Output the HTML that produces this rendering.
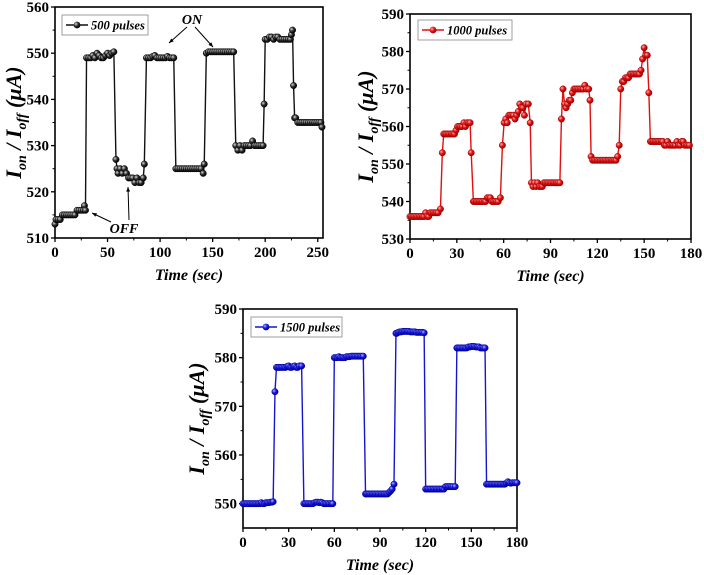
<!DOCTYPE html>
<html><head><meta charset="utf-8">
<style>
html,body{margin:0;padding:0;background:#fff;}
svg{display:block;}
text{font-family:"Liberation Serif",serif;font-weight:bold;}
</style></head>
<body>
<svg id="fig" width="704" height="575" viewBox="0 0 704 575" xmlns="http://www.w3.org/2000/svg">
<defs>
<radialGradient id="gk" cx="0.35" cy="0.35" r="0.65"><stop offset="0" stop-color="#d8d8d8"/><stop offset="0.5" stop-color="#333"/><stop offset="1" stop-color="#000"/></radialGradient>
<radialGradient id="gr" cx="0.35" cy="0.35" r="0.65"><stop offset="0" stop-color="#ffb0b0"/><stop offset="0.5" stop-color="#e51515"/><stop offset="1" stop-color="#a00000"/></radialGradient>
<radialGradient id="gb" cx="0.35" cy="0.35" r="0.65"><stop offset="0" stop-color="#b0b0ff"/><stop offset="0.5" stop-color="#1a1ae0"/><stop offset="1" stop-color="#0000a0"/></radialGradient>
</defs>
</svg>
<script>
// ---- Panel 1 data (500 pulses) ----
const t1 = [0,1,3,5,7,9,11,13,15,17,19,21,23,25,27,28,29,
30,32,34,36,38,40,42,44,46,48,50,52,54,56,
58,59,60,62,64,66,68,70,72,74,76,78,80,82,84,85,
87,89,91,93,95,97,99,101,103,105,107,109,111,113,
115,117,119,121,123,125,127,129,131,133,135,137,139,141,142,
144,146,148,150,152,154,156,158,160,162,164,166,168,170,
172,174,176,178,180,182,184,186,188,190,192,194,196,198,
199,200,202,204,206,208,210,212,214,216,218,220,222,224,225,226,
227,228,229,231,233,235,237,239,241,243,245,247,249,251,253,254];
const v1 = [513,514,514,514,515,515,515,515,515,515,515,516,516,516,516,517,516,
549,549,549,549.5,549,550,549.5,549,549,549.5,550,549.5,550,550.3,
527,525,524,525,524,525,524,523,523,523,522,523,522,522,523,526,
549,549,549,549.3,549.5,549,549,549,549,549,549.3,549,549,549,
525,525,525,525,525,525,525,525,525,525,525,525,525,524,526,
550,550.3,550.3,550.3,550.3,550.3,550.3,550.3,550.3,550.3,550.3,550.3,550.3,550.3,
530,529,530,529,530,530,530,530,531,530,530,530,530,530,
539,553,553,553.5,553.5,553,553.5,553.5,553,553,553,553,553,553,554,555,
543,536,536,535,535,535,535,535,535,535,535,535,535,535,535,534];
const xt1 = [0,50,100,150,200,250];
const yt1 = [510,520,530,540,550,560];

// ---- Panel 2 data (1000 pulses) ----
const t2 = [0,1,2,3,4,5,6,7,8,9,10,11,12,13,14,15,16,17,18,19.5,
20.7,21.6,22.5,23.5,24.5,25.5,26.5,27.5,28.5,29.5,30.5,31.5,32.5,33.5,34.5,35.5,36.5,37.5,38.5,
39.2,40.6,41.5,42.5,43.5,44.5,45.5,46.5,47.5,48.5,49.5,50.5,51.5,52.5,53.5,54.5,55.5,56.5,57.9,
59.2,60.3,61.3,62.3,63.3,64.3,65.3,66.3,67.3,68.3,69.3,70.3,71.3,72.3,73.3,74.3,75.8,
77,77.8,78.8,79.8,80.8,81.8,82.8,83.8,84.8,85.8,86.8,87.8,88.8,89.8,90.8,91.8,92.8,93.8,94.8,96,
97,98,99,100,101,102,103,104,105,106,107,108,109,110,111,112,113,114.5,
115.3,116,117,118,119,120,121,122,123,124,125,126,127,128,129,130,131,132,133,
134,135,136,137,138,139,140,141,142,143,144,145,146,147,148,149,150,151,152,
153,154,155,156,157,158,159,160,161,162,163,164,165,166,167,168,169,170,171,172,173,174,175,176,177,178,179];
const v2 = [536,536,536,536,536,536,536,536,536,536,537,536,536,537,537,537,537,537,537,538,
553,558,558,558,558,558,558,558,558,559,560,560,560,560,561,560,561,561,561,
553,540,540,540,540,540,540,540,540,540,541,541,541,540,540,540,540,540,541,
555,561,562,561,563,563,563,563,562,563,564,566,565,565,563,566,566,
561,545,544,545,544,545,544,544,544,545,545,545,545,545,545,545,545,545,545,545,
562,570,566,565,566,567,567,569,570,570,570,570,570,570,570,571,570,570,
567,552,551,551,551,551,551,551,551,551,551,551,551,551,551,551,551,551,552,
555,570,572,572,573,573,573,574,574,574,574,574,574,574,575,578,581,579,579,
569,556,556,556,556,556,556,556,556,556,555,555,556,555,555,555,555,555,556,555,555,556,556,555,555,555,555];
const xt2 = [0,30,60,90,120,150,180];
const yt2 = [530,540,550,560,570,580,590];

// ---- Panel 3 data (1500 pulses) ----
const t3 = [0,1,2,3,4,5,6,7,8,9,10,11,12,13,14,15,16,17,18,19,19.8,
21,22,23,24,25,26,27,28,29,30,31,32,33,34,35,36,37,38.5,
40,41,42,43,44,45,46,47,48,49,50,51,52,53,54,55,56,57,58,59,
60,61,62,63,64,65,66,67,68,69,70,71,72,73,74,75,76,77,78,79,
80.5,81,82,83,84,85,86,87,88,89,90,91,92,93,94,95,96,97,98,99.2,
100.5,101,102,103,104,105,106,107,108,109,110,111,112,113,114,115,116,117,118,119,
120,121,122,123,124,125,126,127,128,129,130,131,132,133,134,135,136,137,138,139.4,
140.5,141,142,143,144,145,146,147,148,149,150,151,152,153,154,155,156,157,158,159,
160,161,162,163,164,165,166,167,168,169,170,171,172,173,174,175,176,177,178,179,180];
const v3 = [550,550,550,550,550,550,550,550,550,550,550,550,550.2,550,550,550.2,550.2,550.2,550.3,550.3,550.4,
573,578,578,578,578,578,578,578,578.2,578.3,578,578,578.2,578.3,578,578,578.3,578.3,
550,550,550,550,550,550,550,550.2,550.3,550.3,550.2,550.3,550.2,550,550,550,550,550,550,550,
580,580,580,580.2,580,580,580,580,580.2,580.2,580.2,580.3,580.3,580.3,580.3,580.3,580.3,580.3,580.3,580.3,
552,552,552,552,552,552,552,552,552,552,552,552,552,552,552,552,552.3,552.6,553,554,
585,585,585.2,585.3,585.3,585.4,585.4,585.4,585.4,585.4,585.3,585.3,585.3,585.3,585.2,585.2,585.2,585.2,585.2,585.1,
553,553,553,553,553,553,553,553,553,553,553,553,553,553.5,553.5,553.5,553.5,553.5,553.5,553.5,
582,582,582,582,582,582,582,582,582.2,582.2,582.3,582.3,582.3,582.2,582.2,582.2,582,582,582,582,
554,554,554,554,554,554,554,554,554,554,554,554,554,554.2,554.5,554.3,554.2,554.3,554.3,554.3,554.3];
const xt3 = [0,30,60,90,120,150,180];
const yt3 = [550,560,570,580,590];

const NS = "http://www.w3.org/2000/svg";
const svg = document.getElementById('fig');
function mk(tag, attrs, parent){
  const e = document.createElementNS(NS, tag);
  for (const k in attrs) e.setAttribute(k, attrs[k]);
  (parent||svg).appendChild(e);
  return e;
}

function panel(cfg){
  const g = mk('g', {});
  
  
  const xs = v => cfg.L + (v - cfg.x0) / (cfg.x1 - cfg.x0) * (cfg.R - cfg.L);
  const ys = v => cfg.B - (v - cfg.y0) / (cfg.y1 - cfg.y0) * (cfg.B - cfg.T);
  const fr = mk('rect', {x:cfg.L, y:cfg.T, width:cfg.R-cfg.L, height:cfg.B-cfg.T, fill:'none', stroke:'#000', 'stroke-width':1.6}, g);
  
  
  const xstep = cfg.xt[1]-cfg.xt[0];
  for (let i=0;i<cfg.xt.length;i++){
    const v = cfg.xt[i], x = xs(v);
    mk('line', {x1:x, x2:x, y1:cfg.B, y2:cfg.B+4, stroke:'#000', 'stroke-width':1.3}, g);
    const mv = v + xstep/2;
    if (mv <= cfg.x1) { const mx = xs(mv); mk('line', {x1:mx, x2:mx, y1:cfg.B, y2:cfg.B+2.5, stroke:'#000', 'stroke-width':1}, g); }
    const tx = mk('text', {x:x, y:cfg.B+19, 'text-anchor':'middle', 'font-size':15}, g);
    tx.textContent = v;
    
    
  }
  const ystep = cfg.yt[1]-cfg.yt[0];
  for (let i=0;i<cfg.yt.length;i++){
    const v = cfg.yt[i], y = ys(v);
    mk('line', {x1:cfg.L-4, x2:cfg.L, y1:y, y2:y, stroke:'#000', 'stroke-width':1.3}, g);
    const mv = v + ystep/2;
    if (mv <= cfg.y1) { const my = ys(mv); mk('line', {x1:cfg.L-2.5, x2:cfg.L, y1:my, y2:my, stroke:'#000', 'stroke-width':1}, g); }
    const ty = mk('text', {x:cfg.L-6, y:y+5, 'text-anchor':'end', 'font-size':15}, g);
    ty.textContent = v;
    
    
  }
  let d = '';
  for (let i=0;i<cfg.t.length;i++) d += (i?'L':'M') + xs(cfg.t[i]).toFixed(2) + ',' + ys(cfg.v[i]).toFixed(2);
  const ln = mk('path', {d:d, fill:'none', stroke:cfg.color, 'stroke-width':1.4}, g);
  
  
  for (let i=0;i<cfg.t.length;i++){
    const c = mk('circle', {cx:xs(cfg.t[i]), cy:ys(cfg.v[i]), r:3.2, fill:cfg.grad, stroke:cfg.edge, 'stroke-width':0.5}, g);
    
    
  }
  const lg = mk('g', {}, g);
  
  
  mk('rect', {x:cfg.lx, y:cfg.ly, width:cfg.lw, height:20, fill:'#fff', stroke:'#888', 'stroke-width':0.8}, lg);
  mk('line', {x1:cfg.lx+4, x2:cfg.lx+26, y1:cfg.ly+10, y2:cfg.ly+10, stroke:cfg.color, 'stroke-width':1.6}, lg);
  mk('circle', {cx:cfg.lx+15, cy:cfg.ly+10, r:3.4, fill:cfg.grad}, lg);
  const lt = mk('text', {x:cfg.lx+29, y:cfg.ly+14.5, 'font-size':12.5, 'font-style':'italic'}, lg);
  lt.textContent = cfg.label;
  const xtl = mk('text', {x:(cfg.L+cfg.R)/2, y:cfg.B+42, 'text-anchor':'middle', 'font-size':16, 'font-style':'italic'}, g);
  xtl.textContent = 'Time (sec)';
  
  
  const ytl = mk('text', {x:0, y:0, 'text-anchor':'middle', 'font-size':22, 'font-style':'italic', transform:'translate('+cfg.ytx+','+((cfg.T+cfg.B)/2)+') rotate(-90)'}, g);
  ytl.innerHTML = 'I<tspan font-size="14" dy="5">on</tspan><tspan dy="-5"> / I</tspan><tspan font-size="14" dy="5">off</tspan><tspan dy="-5"> (μA)</tspan>';
  
  
  return {g, xs, ys};
}

const p1 = panel({name:'panel-500-pulses', L:55, R:323, T:7, B:238, x0:0, x1:255, y0:510, y1:560,
  xt:xt1, yt:yt1, t:t1, v:v1, color:'#111', grad:'url(#gk)', edge:'#000',
  lx:62, ly:15, lw:86, label:'500 pulses', ytx:21});
const p2 = panel({name:'panel-1000-pulses', L:410, R:691, T:14, B:239, x0:0, x1:180, y0:530, y1:590,
  xt:xt2, yt:yt2, t:t2, v:v2, color:'#e01010', grad:'url(#gr)', edge:'#a00000',
  lx:418, ly:20, lw:94, label:'1000 pulses', ytx:373});
const p3 = panel({name:'panel-1500-pulses', L:243, R:517, T:309, B:528, x0:0, x1:180, y0:545, y1:590,
  xt:xt3, yt:yt3, t:t3, v:v3, color:'#1515d0', grad:'url(#gb)', edge:'#0000a0',
  lx:251, ly:317, lw:91, label:'1500 pulses', ytx:204});

const ann = mk('g', {});


function arrow(x1,y1,x2,y2){
  mk('line', {x1:x1,y1:y1,x2:x2,y2:y2,stroke:'#000','stroke-width':1}, ann);
  const a = Math.atan2(y2-y1, x2-x1), s=5;
  const p = [[x2,y2],[x2-s*Math.cos(a-0.4), y2-s*Math.sin(a-0.4)],[x2-s*Math.cos(a+0.4), y2-s*Math.sin(a+0.4)]];
  mk('polygon', {points:p.map(q=>q.join(',')).join(' '), fill:'#000'}, ann);
}
const on = mk('text', {x:192, y:24, 'text-anchor':'middle', 'font-size':14, 'font-style':'italic'}, ann);
on.textContent = 'ON';


arrow(187,27,169,43);
arrow(195,27,213,47);
const off = mk('text', {x:124, y:233, 'text-anchor':'middle', 'font-size':14, 'font-style':'italic'}, ann);
off.textContent = 'OFF';


arrow(111,222,92,213);
arrow(129,220,128,187);
</script>
</body></html>
